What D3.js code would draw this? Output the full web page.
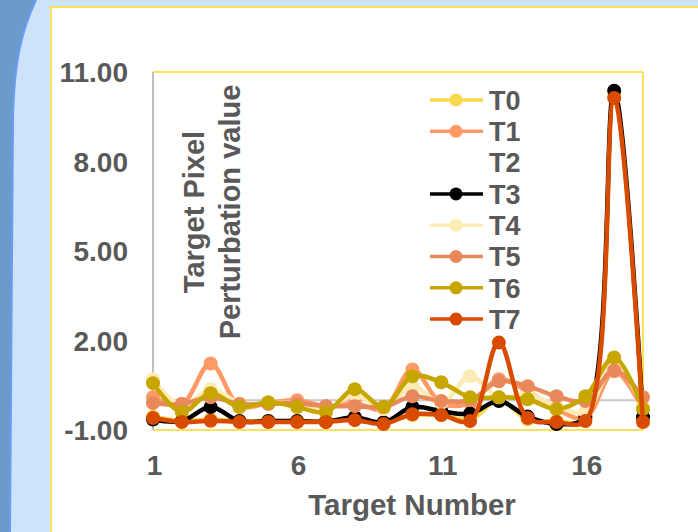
<!DOCTYPE html>
<html>
<head>
<meta charset="utf-8">
<script src="https://cdn.jsdelivr.net/npm/d3@7"></script>
<style>
  html, body { margin: 0; padding: 0; background: #CDE3FA; }
  svg { display: block; }
  text { font-family: "Liberation Sans", Arial, sans-serif; font-weight: bold; fill: #595959; }
</style>
</head>
<body>
<svg id="chart" width="698" height="532"></svg>
<script>
// ---- data ----
const targetNumbers = [1,2,3,4,5,6,7,8,9,10,11,12,13,14,15,16,17,18];
const seriesNames = ["T0","T1","T2","T3","T4","T5","T6","T7"];
const T0 = [-0.55,-0.70,-0.65,-0.70,-0.70,-0.70,-0.70,-0.65,-0.75,-0.50,-0.50,-0.65,0.00,-0.65,-0.70,-0.65,10.20,-0.70];
const T1 = [0.10,-0.13,1.23,-0.20,-0.10,0.00,-0.20,-0.10,-0.30,1.03,-0.10,-0.10,0.70,0.30,-0.30,-0.60,0.97,-0.30];
const T2 = [];
const T3 = [-0.65,-0.70,-0.23,-0.70,-0.70,-0.70,-0.72,-0.57,-0.75,-0.23,-0.37,-0.45,-0.03,-0.55,-0.80,-0.57,10.37,-0.57];
const T4 = [0.70,-0.20,0.37,-0.10,-0.10,-0.10,-0.30,0.20,-0.30,0.47,-0.10,0.80,0.10,0.20,-0.20,-0.40,1.20,-0.20];
const T5 = [-0.10,-0.13,0.10,-0.13,-0.13,-0.10,-0.20,-0.20,-0.23,0.13,-0.03,0.00,0.63,0.47,0.13,-0.03,1.00,0.10];
const T6 = [0.57,-0.40,0.23,-0.23,-0.07,-0.23,-0.40,0.37,-0.23,0.80,0.60,0.10,0.10,0.03,-0.30,0.13,1.43,-0.30];
const T7 = [-0.60,-0.73,-0.69,-0.73,-0.73,-0.73,-0.73,-0.67,-0.80,-0.47,-0.50,-0.70,1.93,-0.60,-0.73,-0.70,10.13,-0.73];
const seriesValues = [T0,T1,T2,T3,T4,T5,T6,T7];
const seriesColors = ["#F8D84A","#FF9A66",null,"#000000","#FDEBB4","#E8895C","#C7A600","#D84B00"];
const yTicks = [-1, 2, 5, 8, 11];
const xTicks = [1, 6, 11, 16];

// ---- layout ----
const svg = d3.select("#chart");
const W = 698, H = 532;
const plot = {left: 153, right: 643, top: 72, bottom: 430};
const FONT = '"Liberation Sans", Arial, sans-serif';

// background decoration
svg.append("rect").attr("width", W).attr("height", H).attr("fill", "#CDE3FA");
svg.append("path")
  .attr("d", "M0,0 L36,0 C22,30 14,60 13,120 L10,532 L0,532 Z")
  .attr("fill", "#6B9BCA");
svg.append("path")
  .attr("d", "M36,0 C22,30 14,60 13,120 L10,532")
  .attr("fill", "none").attr("stroke", "#6A9BF5").attr("stroke-width", 2);
svg.append("rect").attr("x", 51).attr("y", 7).attr("width", W).attr("height", H)
  .attr("fill", "#FFFFFF").attr("stroke", "#FBE05A").attr("stroke-width", 2);

// scales
const x = d3.scaleLinear().domain([1, 18]).range([plot.left, plot.right]);
const y = d3.scaleLinear().domain([-1, 11]).range([plot.bottom, plot.top]);

// plot area border
svg.append("line").attr("x1", plot.left).attr("x2", plot.right).attr("y1", plot.top).attr("y2", plot.top)
  .attr("stroke", "#FBE05A").attr("stroke-width", 2);
svg.append("line").attr("x1", plot.right).attr("x2", plot.right).attr("y1", plot.top).attr("y2", plot.bottom)
  .attr("stroke", "#FBE05A").attr("stroke-width", 2);
svg.append("line").attr("x1", plot.left).attr("x2", plot.right).attr("y1", plot.bottom).attr("y2", plot.bottom)
  .attr("stroke", "#FBE05A").attr("stroke-width", 2);
// zero line & vertical axis line
svg.append("line").attr("x1", plot.left).attr("x2", plot.right).attr("y1", y(0)).attr("y2", y(0))
  .attr("stroke", "#C8C8C8").attr("stroke-width", 2);
svg.append("line").attr("x1", plot.left).attr("x2", plot.left).attr("y1", plot.top).attr("y2", plot.bottom)
  .attr("stroke", "#BFBFBF").attr("stroke-width", 2);

// y axis labels (hyphen minus, as in the reference)
const fmt2 = d3.format(".2f");
const yAxis = d3.axisLeft(y).tickValues(yTicks).tickFormat(d => fmt2(d).replace("\u2212", "-")).tickSize(0).tickPadding(0);
const gy = svg.append("g").attr("transform", "translate(128,0)").call(yAxis);
gy.select(".domain").remove();
gy.selectAll("text").attr("font-size", 28).attr("fill", "#595959")
  .style("font-family", FONT).style("font-weight", "bold").attr("dy", "0.35em");

// x axis labels
const xAxis = d3.axisBottom(x).tickValues(xTicks).tickFormat(d3.format("d")).tickSize(0).tickPadding(0);
const gx = svg.append("g").attr("transform", "translate(1,455)").call(xAxis);
gx.select(".domain").remove();
gx.selectAll("text").attr("font-size", 28).attr("fill", "#595959")
  .style("font-family", FONT).style("font-weight", "bold").attr("dy", "0.71em");

// titles
svg.append("text").attr("x", 412).attr("y", 515).attr("text-anchor", "middle")
  .attr("font-size", 29.5).text("Target Number");
const yt = svg.append("text").attr("transform", "translate(204,212) rotate(-90)")
  .attr("text-anchor", "middle").attr("font-size", 29);
yt.append("tspan").attr("x", 0).attr("dy", 0).text("Target Pixel");
yt.append("tspan").attr("x", 0).attr("dy", 36).text("Perturbation value");

// series
const line = d3.line()
  .x((d, i) => x(targetNumbers[i]))
  .y(d => y(d))
  .curve(d3.curveCatmullRom.alpha(0.5));

seriesValues.forEach((vals, si) => {
  const col = seriesColors[si];
  if (!col || vals.length === 0) return;
  const g = svg.append("g");
  g.append("path").attr("d", line(vals)).attr("fill", "none")
    .attr("stroke", col).attr("stroke-width", 4.5).attr("stroke-linejoin", "round");
  g.selectAll("circle").data(vals).join("circle")
    .attr("cx", (d, i) => x(targetNumbers[i])).attr("cy", d => y(d)).attr("r", 7)
    .attr("fill", col);
});

// legend
const legend = svg.append("g");
seriesNames.forEach((name, i) => {
  const ly = 100 + i * 31.3;
  const col = seriesColors[i];
  if (col) {
    legend.append("line").attr("x1", 430).attr("x2", 483).attr("y1", ly).attr("y2", ly)
      .attr("stroke", col).attr("stroke-width", 3.5);
    legend.append("circle").attr("cx", 456).attr("cy", ly).attr("r", 6.5).attr("fill", col);
  }
  legend.append("text").attr("x", 489).attr("y", ly).attr("dy", "0.36em")
    .attr("font-size", 27).text(name);
});
</script>
</body>
</html>
